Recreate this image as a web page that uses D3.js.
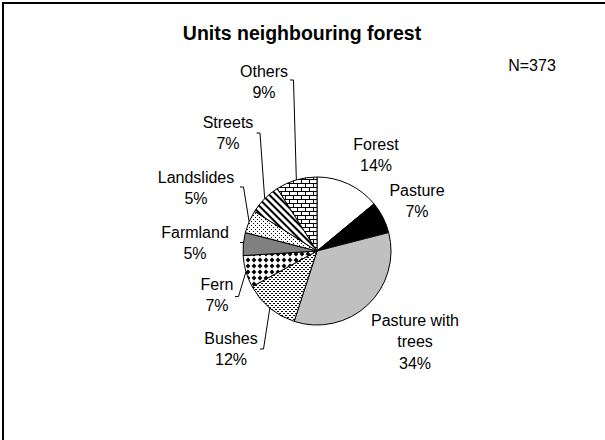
<!DOCTYPE html>
<html><head><meta charset="utf-8">
<script src="https://cdn.jsdelivr.net/npm/d3@7"></script>
<style>body{margin:0;background:#fff;overflow:hidden}</style>
</head><body><script>
// ---- data ----
const categories = ["Forest","Pasture","Pasture with trees","Bushes","Fern","Farmland","Landslides","Streets","Others"];
const values = [14,7,34,12,7,5,5,7,9];
const labelLines = [["Forest"],["Pasture"],["Pasture with","trees"],["Bushes"],["Fern"],["Farmland"],["Landslides"],["Streets"],["Others"]];
const title = "Units neighbouring forest";
const note = "N=373";

// ---- layout ----
const W = 605, H = 440;
const cx = 317, cy = 251, R = 74;
const fills = ["#ffffff","#000000","#c0c0c0","url(#pBushes)","url(#pFern)","#808080","url(#pLand)","url(#pStreets)","url(#pBrick)"];
const labelPos = [[376,144],[417,190],[415,320],[231,338],[217,284],[195,232],[196,177],[228,122],[264,71]];
const leaderStart = [null,null,null,[260,349],[235,296.5],[240,242.5],[240,187],[256.5,133],[290,80]];
const lineH = 21.5;

const svg = d3.select("body").append("svg").attr("width",W).attr("height",H)
  .style("font-family","'Liberation Sans', Arial, sans-serif");
svg.append("rect").attr("width",W).attr("height",H).attr("fill","#fff");
svg.append("rect").attr("x",3).attr("y",3).attr("width",W+20).attr("height",H+20)
  .attr("fill","none").attr("stroke","#000").attr("stroke-width",2);

const defs = svg.append("defs");
// brick
const pb = defs.append("pattern").attr("id","pBrick").attr("patternUnits","userSpaceOnUse").attr("width",8).attr("height",8);
pb.append("rect").attr("width",8).attr("height",8).attr("fill","#fff");
pb.append("path").attr("d","M0,0.5H8M0,4.5H8M0.5,0V4.5M4.5,4.5V8").attr("stroke","#000").attr("stroke-width",1);
// streets diagonal (wide downward)
const ps = defs.append("pattern").attr("id","pStreets").attr("patternUnits","userSpaceOnUse").attr("width",5).attr("height",5).attr("patternTransform","rotate(-45)");
ps.append("rect").attr("width",5).attr("height",5).attr("fill","#fff");
ps.append("rect").attr("width",2).attr("height",5).attr("fill","#000");
// landslides dots
const pl = defs.append("pattern").attr("id","pLand").attr("patternUnits","userSpaceOnUse").attr("width",4).attr("height",4);
pl.append("rect").attr("width",4).attr("height",4).attr("fill","#fff");
pl.append("rect").attr("x",0).attr("y",0).attr("width",1).attr("height",1).attr("fill","#000");
pl.append("rect").attr("x",2).attr("y",2).attr("width",1).attr("height",1).attr("fill","#000");
// bushes horizontal dashes
const pbu = defs.append("pattern").attr("id","pBushes").attr("patternUnits","userSpaceOnUse").attr("width",4).attr("height",4);
pbu.append("rect").attr("width",4).attr("height",4).attr("fill","#fff");
pbu.append("rect").attr("x",0).attr("y",0).attr("width",2).attr("height",1).attr("fill","#000");
pbu.append("rect").attr("x",2).attr("y",2).attr("width",2).attr("height",1).attr("fill","#000");
// fern diamonds
const pf = defs.append("pattern").attr("id","pFern").attr("patternUnits","userSpaceOnUse").attr("width",6).attr("height",6);
pf.append("rect").attr("width",6).attr("height",6).attr("fill","#fff");
pf.append("path").attr("d","M3,0.6L5.4,3L3,5.4L0.6,3Z").attr("fill","#000");

// ---- pie ----
const pie = d3.pie().sort(null).value(d=>d)(values);
const arc = d3.arc().innerRadius(0).outerRadius(R);
const edge = d3.arc().innerRadius(R).outerRadius(R);
const g = svg.append("g").attr("transform",`translate(${cx},${cy})`);
g.selectAll("path.slice").data(pie).join("path").attr("class","slice")
  .attr("d",arc).attr("fill",(d,i)=>fills[i]).attr("stroke","#000").attr("stroke-width",1);

// leaders
pie.forEach((d,i)=>{
  const s = leaderStart[i];
  if(!s) return;
  const c = edge.centroid(d);
  const pts = [[s[0],s[1]],[s[0]+3.5,s[1]],[cx+c[0],cy+c[1]]];
  svg.append("path").attr("d",d3.line()(pts)).attr("fill","none").attr("stroke","#000").attr("stroke-width",1);
});

// labels
categories.forEach((c,i)=>{
  const lines = labelLines[i].concat([values[i]+"%"]);
  const t = svg.append("text").attr("text-anchor","middle").attr("font-size",16).attr("fill","#000");
  lines.forEach((ln,j)=>{
    t.append("tspan").attr("x",labelPos[i][0]).attr("y",labelPos[i][1]+j*lineH+5.7).text(ln);
  });
});

svg.append("text").attr("x",302).attr("y",40).attr("text-anchor","middle").attr("font-size",19.5)
  .attr("font-weight","bold").text(title);
svg.append("text").attr("x",532).attr("y",71).attr("text-anchor","middle").attr("font-size",16).text(note);
</script></body></html>
